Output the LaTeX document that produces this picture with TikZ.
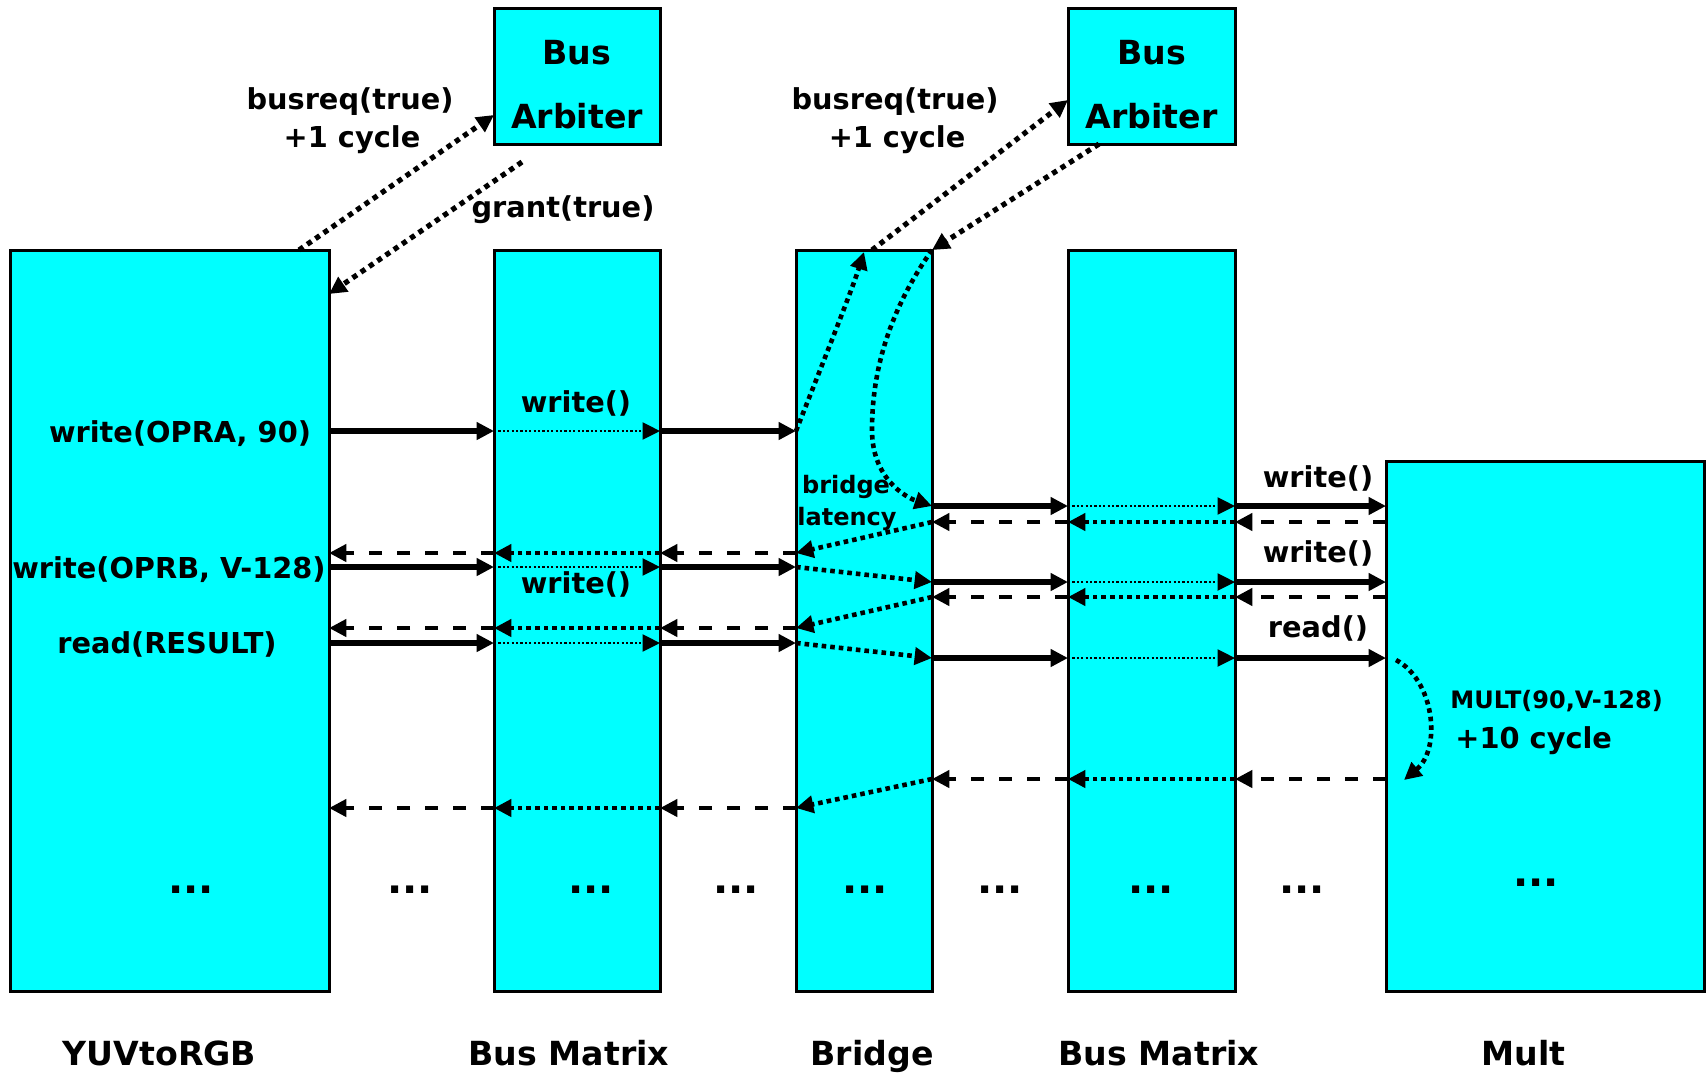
\documentclass[tikz,border=0pt]{standalone}
\usepackage{fontspec}
\setmainfont{DejaVu Sans}
\usetikzlibrary{arrows.meta,calc}
\definecolor{aqua}{HTML}{00FFFF}
\begin{document}
\begin{tikzpicture}[x=0.5pt,y=-0.5pt,
  box/.style={draw=black,line width=1.5pt,fill=aqua,inner sep=0pt,outer sep=0pt},
  txt/.style={inner sep=0pt,anchor=base,font=\fontsize{14.4}{17}\selectfont\bfseries},
  big/.style={txt,font=\fontsize{16.6}{20}\selectfont\bfseries},
  small/.style={txt,font=\fontsize{12}{14}\selectfont\bfseries},
  more/.style={txt,font=\fontsize{20}{22}\selectfont\bfseries},
  tip/.style={-{Triangle[length=8.7pt,width=8.5pt]}},
  call/.style={tip,line width=2.8pt},
  pass/.style={tip,line width=1.1pt,dash pattern=on 1.1pt off 1.1pt},
  hop/.style={tip,line width=2.3pt,dash pattern=on 2.3pt off 2pt},
  req/.style={tip,line width=2.6pt,dash pattern=on 2.6pt off 2.4pt},
  reply/.style={tip,line width=2.3pt,dash pattern=on 6.5pt off 7.5pt},
]
\useasboundingbox (0,0) rectangle (1706,1073);

% components
\node[box,minimum width=159.5pt,minimum height=370.5pt] (yuv) at (169.5,620.5) {};
\node[box,minimum width=83pt,minimum height=370.5pt] (bm1) at (577,620.5) {};
\node[box,minimum width=68pt,minimum height=370.5pt] (br) at (864,620.5) {};
\node[box,minimum width=83.5pt,minimum height=370.5pt] (bm2) at (1151.5,620.5) {};
\node[box,minimum width=159pt,minimum height=265pt] (mult) at (1545,726) {};
\node[box,minimum width=83pt,minimum height=68pt] (arb1) at (577,76) {};
\node[box,minimum width=83.5pt,minimum height=68pt] (arb2) at (1151.5,76) {};

% arbiter titles
\node[big] (a1t) at (577,64) {Bus};
\node[big] (a1b) at (577,128) {Arbiter};
\node[big] (a2t) at (1151.5,64) {Bus};
\node[big] (a2b) at (1151.5,128) {Arbiter};

% component names
\node[big] (n1) at (159.5,1065) {YUVtoRGB};
\node[big] (n2) at (569,1065) {Bus Matrix};
\node[big] (n3) at (872,1065) {Bridge};
\node[big] (n4) at (1159,1065) {Bus Matrix};
\node[big] (n5) at (1523.5,1065) {Mult};

% message rows
\coordinate (rA) at (0,431);
\coordinate (rB) at (0,553);
\coordinate (rC) at (0,567);
\coordinate (rD) at (0,628);
\coordinate (rE) at (0,643);
\coordinate (rF) at (0,808);
\coordinate (sA) at (0,506);
\coordinate (sB) at (0,522);
\coordinate (sC) at (0,582);
\coordinate (sD) at (0,597);
\coordinate (sE) at (0,658);
\coordinate (sF) at (0,779);

% requests on the first bus
\foreach \r in {rA,rC,rE} {
  \draw[call] (yuv.east|-\r) -- (bm1.west|-\r);
  \draw[pass] (bm1.west|-\r) -- (bm1.east|-\r);
  \draw[call] (bm1.east|-\r) -- (br.west|-\r);
}
% responses on the first bus
\foreach \r in {rB,rD,rF} {
  \draw[reply] (br.west|-\r) -- (bm1.east|-\r);
  \draw[hop] (bm1.east|-\r) -- (bm1.west|-\r);
  \draw[reply] (bm1.west|-\r) -- (yuv.east|-\r);
}
% requests on the second bus
\foreach \r in {sA,sC,sE} {
  \draw[call] (br.east|-\r) -- (bm2.west|-\r);
  \draw[pass] (bm2.west|-\r) -- (bm2.east|-\r);
  \draw[call] (bm2.east|-\r) -- (mult.west|-\r);
}
% responses on the second bus
\foreach \r in {sB,sD,sF} {
  \draw[reply] (mult.west|-\r) -- (bm2.east|-\r);
  \draw[hop] (bm2.east|-\r) -- (bm2.west|-\r);
  \draw[reply] (bm2.west|-\r) -- (br.east|-\r);
}

% crossing the bridge
\draw[hop] (br.east|-sB) -- (br.west|-rB);
\draw[hop] (br.west|-rC) -- (br.east|-sC);
\draw[hop] (br.east|-sD) -- (br.west|-rD);
\draw[hop] (br.west|-rE) -- (br.east|-sE);
\draw[hop] (br.east|-sF) -- (br.west|-rF);

% bus arbitration, first bus
\coordinate (q1) at ($(yuv.north east)+(-30,0)$);
\coordinate (g1) at ($(arb1.south west)+(28,18)$);
\draw[req] (q1) -- ($(arb1.west)+(0,39)$);
\draw[req] (g1) -- ($(yuv.north east)+(0,44)$);

% bus arbitration, second bus
\draw[hop] (br.west|-rA) .. controls (820,370) and (852,290) .. ($(br.north)+(0,2)$);
\draw[req] ($(br.north)+(8,0)$) -- ($(arb2.west)+(0,24)$);
\draw[req] ($(arb2.south west)+(31,0)$) -- (br.north east);
\draw[hop] (br.north east) .. controls (884,318) and (872,380) .. (872,430)
  .. controls (872,478) and (905,497) .. (br.east|-sA);

% multiplier latency
\draw[hop] ($(mult.west|-sE)+(10,2)$) .. controls (1434,680) and (1442,748) .. ($(mult.west|-sF)+(18,1)$);

% labels
\node[txt] (l1) at (350,109) {busreq(true)};
\node[txt] (l2) at (352,147) {+1 cycle};
\node[txt] (l3) at (563,217) {grant(true)};
\node[txt] (l4) at (895,109) {busreq(true)};
\node[txt] (l5) at (897,147) {+1 cycle};
\node[txt] (l6) at (180,442) {write(OPRA, 90)};
\node[txt] (l7) at (576,412) {write()};
\node[small] (l8) at (846,493) {bridge};
\node[small] (l9) at (847,525) {latency};
\node[txt] (l10) at (169,578) {write(OPRB, V-128)};
\node[txt] (l11) at (576,593) {write()};
\node[txt] (l12) at (167,653) {read(RESULT)};
\node[txt] (l13) at (1318,487) {write()};
\node[txt] (l14) at (1318,562) {write()};
\node[txt] (l15) at (1318,637) {read()};
\node[small,anchor=base west] (l16) at (1450,708) {MULT(90,V-128)};
\node[txt,anchor=base west] (l17) at (1455,748) {+10 cycle};

% continuation marks
\foreach \x/\n in {191/1,410/2,591/3,736/4,865/5,1000/6,1151/7,1302/8} {
  \node[more] (d\n) at (\x,893) {...};
}
\node[more] (d9) at (1536,886) {...};
\end{tikzpicture}
\end{document}
